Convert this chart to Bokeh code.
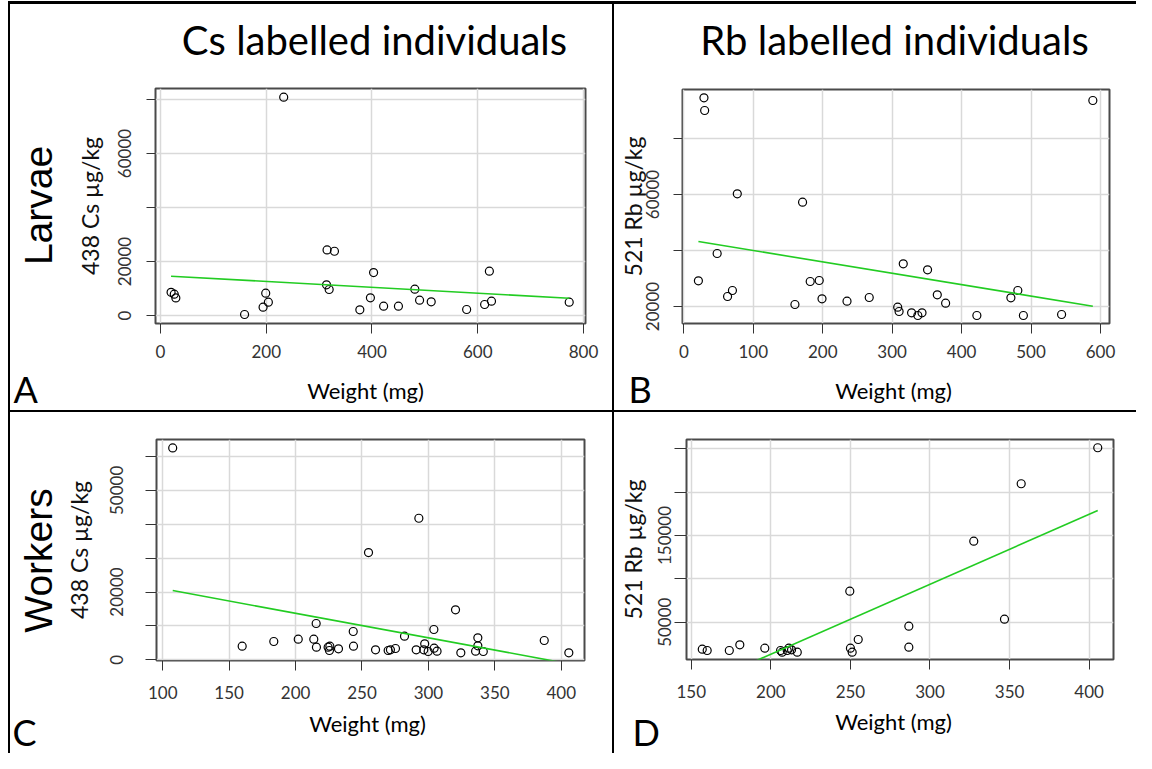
import math
from bokeh.plotting import figure
from bokeh.models import Range1d, Spacer
from bokeh.layouts import row, column
from bokeh.core.properties import value
from bokeh.embed import file_html
from bokeh.resources import INLINE

# ---------------- data ----------------
# A: Cs labelled larvae
cs_larvae_weight = [20, 26, 29, 159, 199, 204, 194, 233, 315, 329, 403, 314, 319, 397,
                    377, 422, 450, 481, 490, 512, 579, 622, 613, 626, 773]
cs_larvae_conc = [8600, 7900, 6500, 370, 8260, 4930, 3070, 80850, 24300, 23800, 15900,
                  11370, 9630, 6560, 2100, 3450, 3450, 9750, 5670, 5070, 2220, 16400,
                  4070, 5300, 4930]
cs_larvae_fit = (14780, -10.84)      # intercept, slope of the fitted line

# B: Rb labelled larvae
rb_larvae_weight = [29, 30, 77, 171, 48, 21, 182, 195, 70, 63, 160, 199, 235, 267, 308,
                    310, 589, 316, 351, 365, 377, 328, 337, 343, 422, 481, 471, 489, 544]
rb_larvae_conc = [94540, 90000, 60250, 57250, 38930, 29180, 28930, 29290, 25710, 23570,
                  20710, 22750, 21890, 23210, 19750, 18210, 93570, 35250, 33110, 24180,
                  21180, 17750, 16790, 17750, 16790, 25710, 23110, 16790, 17140]
rb_larvae_fit = (44070, -40.67)

# C: Cs labelled workers
cs_workers_weight = [107.5, 159.8, 183.6, 202, 213.7, 215.7, 215.5, 224.5, 225.5, 232.3,
                     225.8, 243.4, 243.6, 254.9, 260.2, 269.7, 271.4, 275.2, 282, 292.8,
                     290.8, 297.2, 296.5, 299.8, 304.3, 306.5, 304.1, 320.4, 324.4, 337.2,
                     335.5, 341.3, 337.2, 387.2, 405.7]
cs_workers_conc = [62540, 4010, 5400, 6100, 6080, 3720, 10710, 3720, 2740, 3240, 4010,
                   8350, 4010, 31650, 2950, 2740, 2950, 3330, 6960, 41770, 2950, 4720,
                   2950, 2450, 3420, 2540, 8940, 14750, 2060, 6490, 2540, 2450, 4130,
                   5690, 2060]
cs_workers_fit = (28230, -72.5)

# D: Rb labelled workers
rb_workers_weight = [156.9, 160, 173.9, 180.5, 196.2, 206.1, 207.1, 211.3, 213, 216.6,
                     210.3, 249.6, 250, 251.1, 254.9, 286.7, 286.7, 327.5, 346.8, 357.3,
                     405.4]
rb_workers_conc = [18860, 17360, 17360, 23930, 20020, 17360, 15400, 20020, 18170, 15400,
                   17360, 85760, 20020, 15400, 30050, 45390, 21170, 143430, 53460,
                   209640, 251200]
rb_workers_fit = (-148350, 807)

# ticks and tick labels
a_xticks = [0, 200, 400, 600, 800]
a_yticks = [0, 20000, 40000, 60000, 80000]
a_ylabels = ["0", "20000", "", "60000", ""]
b_xticks = [0, 100, 200, 300, 400, 500, 600]
b_yticks = [20000, 40000, 60000, 80000]
b_ylabels = ["20000", "", "60000", ""]
c_xticks = [100, 150, 200, 250, 300, 350, 400]
c_yticks = [0, 10000, 20000, 30000, 40000, 50000, 60000]
c_ylabels = ["0", "", "20000", "", "", "50000", ""]
d_xticks = [150, 200, 250, 300, 350, 400]
d_yticks = [50000, 100000, 150000, 200000, 250000]
d_ylabels = ["50000", "", "150000", "", ""]

col_titles = ["Cs labelled individuals", "Rb labelled individuals"]
row_titles = ["Larvae", "Workers"]
panel_letters = ["A", "B", "C", "D"]
xlabel = "Weight (mg)"
cs_ylabel = "438 Cs µg/kg"
rb_ylabel = "521 Rb µg/kg"

FONT = "Lato"


def panel(width, height, borders, xr, yr, xticks, yticks, ylabels, ylabel, weight, conc, fit,
          ytick_len, ytick_standoff, ylab_standoff, xtick_len=10, xtick_standoff=15):
    p = figure(width=width, height=height, x_range=Range1d(*xr), y_range=Range1d(*yr),
               output_backend="svg", toolbar_location=None, title=None,
               min_border_left=borders[0], min_border_right=borders[1],
               min_border_top=borders[2], min_border_bottom=borders[3])
    p.frame_align = False
    p.background_fill_color = "white"
    p.border_fill_color = "white"
    p.outline_line_color = "#4a4a4a"
    p.outline_line_width = 2

    p.xaxis.ticker = xticks
    p.yaxis.ticker = yticks
    p.yaxis.major_label_overrides = {t: s for t, s in zip(yticks, ylabels)}
    p.xaxis.major_label_overrides = {t: str(t) for t in xticks}
    for ax in (p.xaxis, p.yaxis):
        ax.axis_line_color = None
        ax.minor_tick_line_color = None
        ax.major_tick_in = 0
        ax.major_tick_line_color = "#333333"
        ax.major_tick_line_width = 1
        ax.major_label_text_font = FONT
        ax.major_label_text_font_size = "17px"
        ax.major_label_text_color = "#333333"
        ax.axis_label_text_font = FONT
        ax.axis_label_text_font_style = "normal"
        ax.axis_label_text_color = "#111111"
    p.xaxis.major_tick_out = xtick_len
    p.xaxis.major_label_standoff = xtick_standoff
    p.yaxis.major_tick_out = ytick_len
    p.yaxis.major_label_standoff = ytick_standoff
    p.yaxis.major_label_orientation = "parallel"
    p.yaxis.axis_label = ylabel
    p.yaxis.axis_label_text_font_size = "23px"
    p.yaxis.axis_label_standoff = ylab_standoff

    for g in (p.xgrid, p.ygrid):
        g.grid_line_color = "#d9d9d9"
        g.grid_line_width = 1.5

    p.scatter(weight, conc, marker="circle", size=8, fill_color=None,
              line_color="black", line_width=1.2)
    x0, x1 = min(weight), max(weight)
    b0, b1 = fit
    p.line([x0, x1], [b0 + b1 * x0, b0 + b1 * x1], line_color="#22cc22", line_width=1.6)
    return p


def strip(width, height, texts):
    """A plain text band: its frame fills it, one data unit = one pixel (y measured upward)."""
    s = figure(width=width, height=height, x_range=Range1d(0, width), y_range=Range1d(0, height),
               output_backend="svg", toolbar_location=None, title=None, min_border=0,
               x_axis_location=None, y_axis_location=None)
    s.frame_align = False
    s.grid.visible = False
    s.outline_line_color = None
    s.background_fill_color = "white"
    s.border_fill_color = "white"
    for (txt, x, y, size, font, align, angle) in texts:
        s.text(x=[x], y=[y], text=[txt], text_font=value(font), text_font_size=f"{size}px",
               text_align=align, text_baseline="middle", angle=angle, text_color="black")
    return s


# ---- main panels (frames placed via the borders) ----
pA = panel(552, 285, (95, 27, 8, 42), (-9.46, 803.8), (-2963, 84074),
           a_xticks, a_yticks, a_ylabels, cs_ylabel,
           cs_larvae_weight, cs_larvae_conc, cs_larvae_fit,
           ytick_len=9, ytick_standoff=15, ylab_standoff=12, xtick_standoff=11)
pB = panel(522, 285, (68, 27, 9, 42), (-1.9, 613), (13929, 97500),
           b_xticks, b_yticks, b_ylabels, rb_ylabel,
           rb_larvae_weight, rb_larvae_conc, rb_larvae_fit,
           ytick_len=9, ytick_standoff=14, ylab_standoff=-3, xtick_standoff=11)
pC = panel(552, 295, (96, 28, 27, 47), (95.3, 417.5), (-207, 65020),
           c_xticks, c_yticks, c_ylabels, cs_ylabel,
           cs_workers_weight, cs_workers_conc, cs_workers_fit,
           ytick_len=11, ytick_standoff=22, ylab_standoff=15)
pD = panel(522, 295, (72, 23, 27, 48), (147.0, 415.3), (6980, 260700),
           d_xticks, d_yticks, d_ylabels, rb_ylabel,
           rb_workers_weight, rb_workers_conc, rb_workers_fit,
           ytick_len=12, ytick_standoff=3, ylab_standoff=9)

# ---- text bands: column titles, row titles, x-axis titles and panel letters ----
# (each text is anchored at the middle of its letters)
topA = strip(602, 76, [(col_titles[0], 364, 41, 40, FONT, "center", 0.0)])
topB = strip(522, 76, [(col_titles[1], 280, 41, 40, FONT, "center", 0.0)])
leftA = strip(50, 285, [(row_titles[0], 27.5, 160, 39, "Liberation Sans", "center", math.pi / 2)])
leftC = strip(50, 295, [(row_titles[1], 28, 147, 39, "Liberation Sans", "center", math.pi / 2)])
botA = strip(602, 45, [(panel_letters[0], 3, 22, 36, FONT, "left", 0.0),
                       (xlabel, 355, 20.5, 22, FONT, "center", 0.0)])
botB = strip(522, 45, [(panel_letters[1], 14, 22, 36, FONT, "left", 0.0),
                       (xlabel, 279, 20.5, 22, FONT, "center", 0.0)])
botC = strip(602, 46, [(panel_letters[2], 2, 22, 36, FONT, "left", 0.0),
                       (xlabel, 357, 30, 22, FONT, "center", 0.0)])
botD = strip(522, 46, [(panel_letters[3], 18, 22, 36, FONT, "left", 0.0),
                       (xlabel, 279, 32, 22, FONT, "center", 0.0)])

WHITE = {"background-color": "white"}
cellA = column(topA, row(leftA, pA, styles=WHITE), botA, styles=WHITE)
cellB = column(topB, pB, botB, styles=WHITE)
cellC = column(row(leftC, pC, styles=WHITE), botC, styles=WHITE)
cellD = column(pD, botD, styles=WHITE)

top_row = row(Spacer(width=2, height=406), cellA, Spacer(width=2, height=406), cellB)
bottom_row = row(Spacer(width=2, height=341), cellC, Spacer(width=2, height=341), cellD)
grid = column(Spacer(width=1128, height=3), top_row, Spacer(width=1128, height=2), bottom_row,
              styles={"background-color": "black"})
page = column(Spacer(width=1136, height=1), row(Spacer(width=8, height=753), grid))

open("out.html", "w").write(file_html(page, INLINE))
